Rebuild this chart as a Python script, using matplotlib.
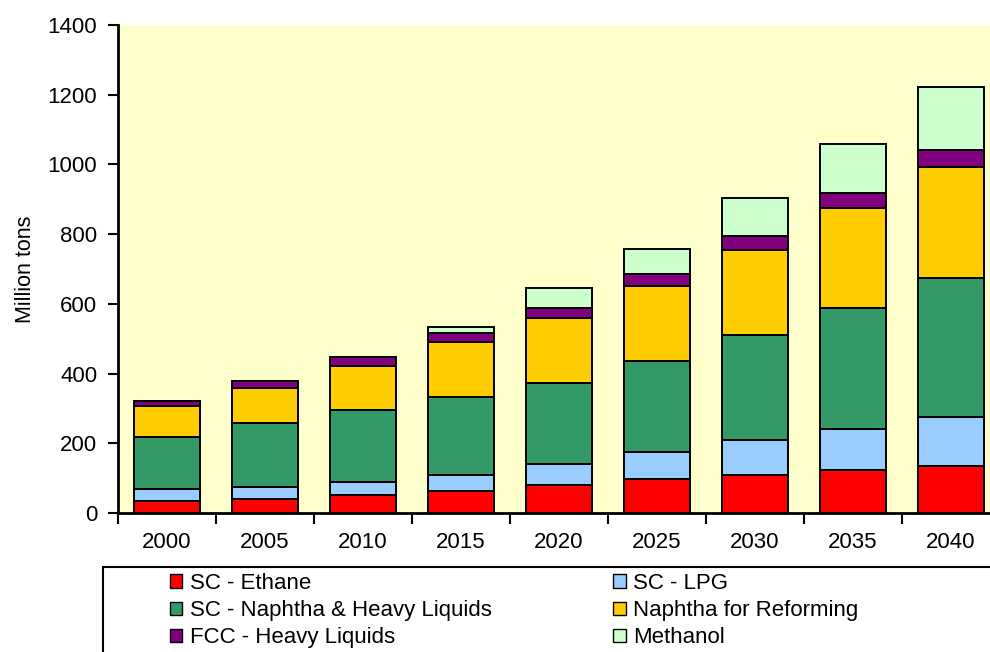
import numpy as np
import matplotlib
matplotlib.use("Agg")
import matplotlib.pyplot as plt
from matplotlib.patches import Rectangle, Patch

plt.rcParams['font.family'] = ['Liberation Sans', 'DejaVu Sans']

years = ['2000', '2005', '2010', '2015', '2020', '2025', '2030', '2035', '2040']
ethane = [34, 40, 52, 62, 79, 98, 109, 123, 136]
lpg = [36, 35, 38, 47, 62, 76, 100, 117, 140]
naphtha_hl = [149, 182, 205, 225, 232, 263, 302, 349, 397]
reforming = [88, 102, 128, 157, 186, 213, 243, 287, 320]
fcc = [15, 21, 25, 25, 29, 37, 41, 42, 48]
methanol = [0, 0, 0, 19, 57, 71, 108, 141, 180]

series = [ethane, lpg, naphtha_hl, reforming, fcc, methanol]
names = ['SC - Ethane', 'SC - LPG', 'SC - Naphtha & Heavy Liquids',
         'Naphtha for Reforming', 'FCC - Heavy Liquids', 'Methanol']
colors = ['#FF0000', '#99CCFF', '#339966', '#FFCC00', '#800080', '#CCFFCC']

fig = plt.figure(figsize=(9.9, 6.52), dpi=100)
ax = fig.add_axes([118/990, 1-513/652, 882/990, 488/652])
ax.set_facecolor('#FFFFCC')

x = np.arange(len(years))
bottom = np.zeros(len(years))
for vals, c in zip(series, colors):
    v = np.array(vals, dtype=float)
    ax.bar(x, v, bottom=bottom, width=0.67, color=c, edgecolor='black', linewidth=1.4, zorder=3)
    bottom += v

ax.set_xlim(-0.5, len(years) - 0.5)
ax.set_ylim(0, 1400)
ax.set_yticks(np.arange(0, 1401, 200))
ax.set_xticks(x)
ax.set_xticklabels(years)
ax.set_xticks(np.arange(-0.5, len(years)), minor=True)
ax.tick_params(axis='x', which='major', length=0, labelsize=16, pad=14)
ax.tick_params(axis='x', which='minor', length=8, width=1.5, direction='out')
ax.tick_params(axis='y', length=7, width=1.5, direction='out', labelsize=16, pad=8)
for s in ['top', 'right']:
    ax.spines[s].set_visible(False)
for s in ['left', 'bottom']:
    ax.spines[s].set_linewidth(2)
ax.set_ylabel('Million tons', fontsize=15.5, labelpad=8)

# legend frame
fig.patches.append(Rectangle((103/990, -0.05), 1.0, 1-567/652 + 0.05,
                             transform=fig.transFigure, fill=False,
                             edgecolor='black', linewidth=1.5))
order = [0, 2, 4, 1, 3, 5]
handles = [Patch(facecolor=colors[i], edgecolor='black', linewidth=1) for i in order]
labels = [names[i] for i in order]
fig.legend(handles, labels, ncol=2, loc='upper left',
           bbox_to_anchor=(170/990, 1-573/652), frameon=False,
           fontsize=16, handlelength=0.55, handleheight=0.55,
           handletextpad=0.35, labelspacing=0.28, columnspacing=5.47,
           borderpad=0, borderaxespad=0)

fig.savefig('out.png', dpi=100)
